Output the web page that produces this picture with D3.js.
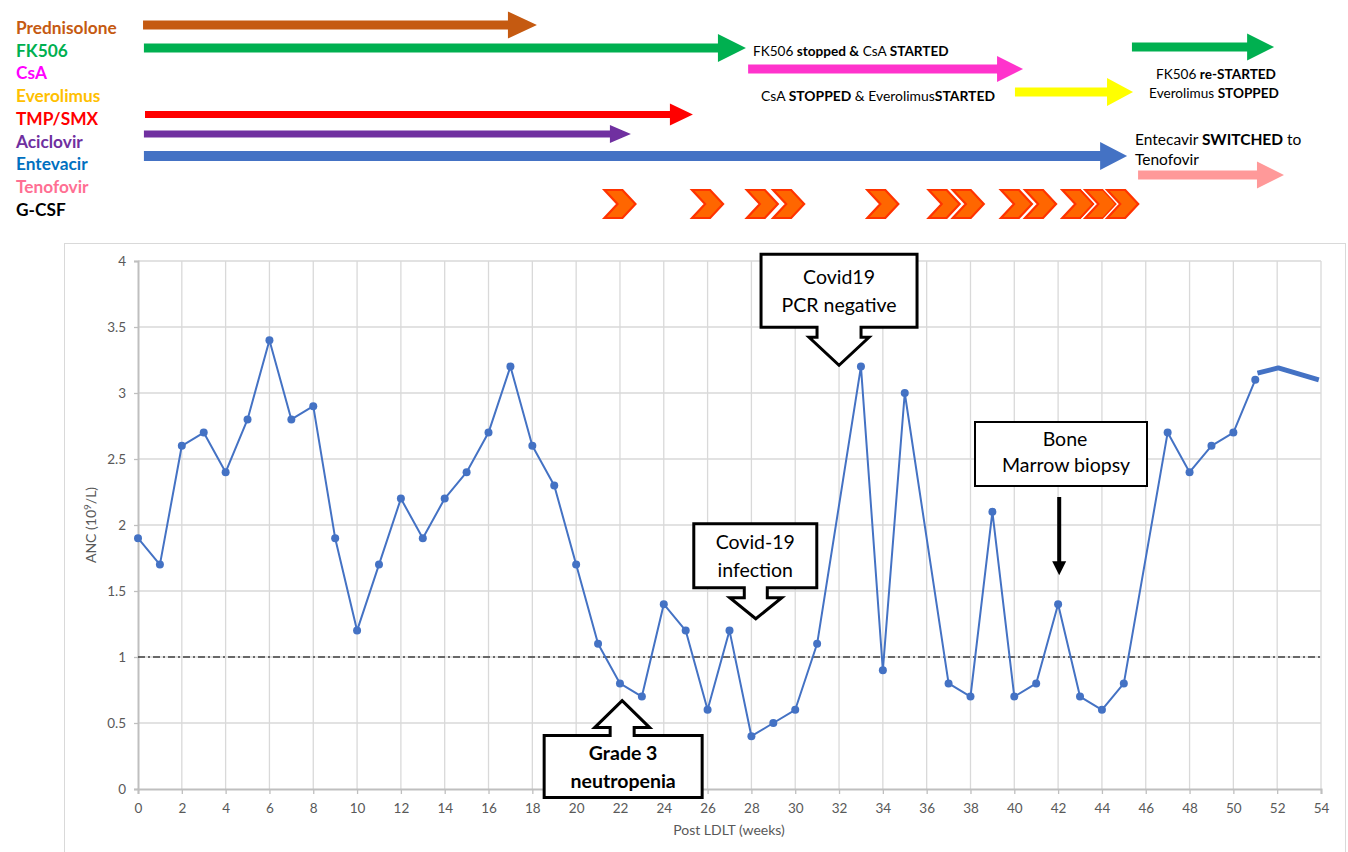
<!DOCTYPE html>
<html>
<head>
<meta charset="utf-8">
<script src="https://cdn.jsdelivr.net/npm/d3@7"></script>
<style>
  html, body { margin: 0; padding: 0; background: #fff; }
  svg { display: block; font-family: Lato, "Open Sans", sans-serif; }
</style>
</head>
<body>
<svg id="chart" width="1348" height="852"></svg>
<script>
// ANC series (10^9/L) by week after LDLT
const weeks = [0,1,2,3,4,5,6,7,8,9,10,11,12,13,14,15,16,17,18,19,20,21,22,23,24,25,26,27,28,29,30,31,33,34,35,37,38,39,40,41,42,43,44,45,47,48,49,50,51];
const anc   = [1.9,1.7,2.6,2.7,2.4,2.8,3.4,2.8,2.9,1.9,1.2,1.7,2.2,1.9,2.2,2.4,2.7,3.2,2.6,2.3,1.7,1.1,0.8,0.7,1.4,1.2,0.6,1.2,0.4,0.5,0.6,1.1,3.2,0.9,3.0,0.8,0.7,2.1,0.7,0.8,1.4,0.7,0.6,0.8,2.7,2.4,2.6,2.7,3.1];
// trailing trend segment (no markers)
const trendWeeks = [51.1, 52.05, 53.9];
const trendAnc   = [3.15, 3.19, 3.10];

const threshold = 1.0;
const xTicks = d3.range(0, 55, 2);
const yTicks = [0, 0.5, 1, 1.5, 2, 2.5, 3, 3.5, 4];

// medications legend
const drugNames  = ["Prednisolone","FK506","CsA","Everolimus","TMP/SMX","Aciclovir","Entevacir","Tenofovir","G-CSF"];
const drugColors = ["#C55A11","#00B050","#FF00FF","#FFC000","#FF0000","#7030A0","#0070C0","#FF6F93","#000000"];

// treatment periods (weeks)
const periodDrug  = ["Prednisolone","FK506","CsA","Everolimus","FK506","TMP/SMX","Aciclovir","Entevacir","Tenofovir"];
const periodStart = [0.23, 0.27, 27.85, 40.03, 45.37, 0.32, 0.27, 0.27, 45.65];
const periodEnd   = [18.21, 27.75, 40.40, 45.42, 51.86, 25.33, 22.50, 45.15, 52.31];

// G-CSF doses (weeks)
const gcsfWeeks = [22.0, 26.0, 28.5, 29.7, 34.0, 36.8, 37.9, 40.1, 41.2, 42.9, 43.95, 44.95];

const svg = d3.select("#chart");
const x = d3.scaleLinear().domain([0, 54]).range([138, 1321]);
const y = d3.scaleLinear().domain([0, 4]).range([789, 261]);

// ---------- chart frame ----------
svg.append("rect").attr("x", 64.5).attr("y", 243.5).attr("width", 1281).attr("height", 640)
  .attr("fill", "none").attr("stroke", "#d9d9d9").attr("stroke-width", 1);

// gridlines
svg.append("g").selectAll("line").data(xTicks.filter(d => d > 0)).join("line")
  .attr("x1", d => x(d)).attr("x2", d => x(d)).attr("y1", y(4)).attr("y2", y(0))
  .attr("stroke", "#d9d9d9").attr("stroke-width", 1.3);
svg.append("g").selectAll("line").data(yTicks.filter(d => d > 0)).join("line")
  .attr("x1", x(0)).attr("x2", x(54)).attr("y1", d => y(d)).attr("y2", d => y(d))
  .attr("stroke", "#d9d9d9").attr("stroke-width", 1.3);

// axes
const xAxis = svg.append("g").attr("transform", `translate(0,${y(0)})`)
  .call(d3.axisBottom(x).tickValues(xTicks).tickSize(5).tickPadding(9).tickFormat(d3.format("d")));
const yAxis = svg.append("g").attr("transform", `translate(${x(0)},0)`)
  .call(d3.axisLeft(y).tickValues(yTicks).tickSize(4).tickPadding(8).tickFormat(d => String(d)));
[xAxis, yAxis].forEach(g => {
  g.select(".domain").attr("stroke", "#bfbfbf").attr("stroke-width", 2);
  g.selectAll(".tick line").attr("stroke", "#bfbfbf").attr("stroke-width", 1.3);
  g.selectAll(".tick text").attr("fill", "#595959").attr("font-size", 13.5)
    .attr("font-family", "Lato, sans-serif");
});

// axis titles
svg.append("text").attr("x", 729).attr("y", 835).attr("text-anchor", "middle")
  .attr("fill", "#595959").attr("font-size", 14).text("Post LDLT (weeks)");
const yt = svg.append("text").attr("transform", `translate(96,${(y(0) + y(4)) / 2}) rotate(-90)`)
  .attr("text-anchor", "middle").attr("fill", "#595959").attr("font-size", 14);
yt.append("tspan").text("ANC (10");
yt.append("tspan").attr("dy", -5).attr("font-size", 10).text("9");
yt.append("tspan").attr("dy", 5).text("/L)");

// threshold line
svg.append("line").attr("x1", x(0)).attr("x2", x(54)).attr("y1", y(threshold)).attr("y2", y(threshold))
  .attr("stroke", "#404040").attr("stroke-width", 1.3).attr("stroke-dasharray", "7,3,2,3");

// ---------- ANC series ----------
const pts = weeks.map((w, i) => [w, anc[i]]);
const line = d3.line().x(d => x(d[0])).y(d => y(d[1]));
svg.append("path").datum(pts).attr("d", line)
  .attr("fill", "none").attr("stroke", "#4472C4").attr("stroke-width", 2).attr("stroke-linejoin", "round");
svg.append("g").selectAll("circle").data(pts).join("circle")
  .attr("cx", d => x(d[0])).attr("cy", d => y(d[1])).attr("r", 4).attr("fill", "#4472C4");
svg.append("path").datum(trendWeeks.map((w, i) => [w, trendAnc[i]])).attr("d", line)
  .attr("fill", "none").attr("stroke", "#4472C4").attr("stroke-width", 5).attr("stroke-linejoin", "round");

// ---------- medication legend ----------
svg.append("g").selectAll("text").data(drugNames).join("text")
  .attr("x", 16).attr("y", (d, i) => 34 + i * 22.7)
  .attr("fill", (d, i) => drugColors[i]).attr("font-weight", "bold").attr("font-size", 17.3)
  .text(d => d);

// ---------- treatment arrows ----------
const arrowColor = { "Prednisolone": "#C55A11", "FK506": "#00B050", "CsA": "#FF33CC", "Everolimus": "#FFFF00",
  "TMP/SMX": "#FF0000", "Aciclovir": "#7030A0", "Entevacir": "#4472C4", "Tenofovir": "#FF9999" };
// row centre, shaft thickness, head length, head height (pixels) for each period
const arrowLayout = [
  [25, 9, 29, 27], [48, 9, 28, 28], [69, 9, 26, 26], [92, 9, 26, 28], [47, 9, 27, 27],
  [114.5, 7, 23, 22], [134, 7, 21, 18], [156, 10, 27, 28], [175, 9, 27, 27]
];
function arrowPath(x0, x1, cy, t, hl, hh) {
  const xb = x1 - hl;
  return `M${x0},${cy - t / 2}L${xb},${cy - t / 2}L${xb},${cy - hh / 2}L${x1},${cy}` +
         `L${xb},${cy + hh / 2}L${xb},${cy + t / 2}L${x0},${cy + t / 2}Z`;
}
svg.append("g").selectAll("path").data(periodDrug).join("path")
  .attr("d", (d, i) => arrowPath(x(periodStart[i]), x(periodEnd[i]), ...arrowLayout[i]))
  .attr("fill", d => arrowColor[d]);

// treatment change notes
function richText(g, xPos, yPos, parts, size, anchor) {
  const t = g.append("text").attr("x", xPos).attr("y", yPos).attr("font-size", size)
    .attr("fill", "#000").attr("text-anchor", anchor || "start");
  parts.forEach(p => t.append("tspan").attr("font-weight", p[1] ? "bold" : "normal").text(p[0]));
  return t;
}
const notes = svg.append("g");
richText(notes, 753, 56, [["FK506 ", 0], ["stopped &", 1], [" CsA ", 0], ["STARTED", 1]], 13.6);
richText(notes, 761, 101, [["CsA ", 0], ["STOPPED", 1], [" & Everolimus", 0], ["STARTED", 1]], 13.9);
richText(notes, 1216, 79, [["FK506 ", 0], ["re-STARTED", 1]], 13.6, "middle");
richText(notes, 1214, 98, [["Everolimus ", 0], ["STOPPED", 1]], 13.6, "middle");
richText(notes, 1135, 145, [["Entecavir ", 0], ["SWITCHED", 1], [" to", 0]], 15.5);
richText(notes, 1135, 165, [["Tenofovir", 0]], 15.5);

// ---------- G-CSF chevrons ----------
const chevW = 31, chevH = 28, chevD = 13;
function chevron(cx, cy) {
  const l = cx - chevW / 2, r = cx + chevW / 2, t = cy - chevH / 2, b = cy + chevH / 2;
  return `M${l},${t}L${r - chevD},${t}L${r},${cy}L${r - chevD},${b}L${l},${b}L${l + chevD},${cy}Z`;
}
const chev = svg.append("g").selectAll("g").data(gcsfWeeks).join("g");
chev.append("path").attr("d", d => chevron(x(d), 204))
  .attr("fill", "none").attr("stroke", "#fff").attr("stroke-width", 5).attr("stroke-linejoin", "miter");
chev.append("path").attr("d", d => chevron(x(d), 204))
  .attr("fill", "#FF6600").attr("stroke", "#FF3300").attr("stroke-width", 2.2).attr("stroke-linejoin", "miter");

// ---------- callouts ----------
// arrow callout outline: box above (dir=1) or below (dir=-1) the tip
function calloutPath(tx, ty, dir, left, right, boxNear, boxFar, shaftEnd, shaftHalf, headHalf) {
  const s = dir;
  const yb = ty - s * boxNear, yf = ty - s * boxFar, ys = ty - s * shaftEnd;
  return [
    [tx - left, yf], [tx + right, yf], [tx + right, yb], [tx + shaftHalf, yb], [tx + shaftHalf, ys],
    [tx + headHalf, ys], [tx, ty], [tx - headHalf, ys], [tx - shaftHalf, ys], [tx - shaftHalf, yb], [tx - left, yb]
  ].map((p, i) => (i ? "L" : "M") + p[0] + "," + p[1]).join("") + "Z";
}
const callouts = svg.append("g");
function addCallout(tipWeek, tipVal, dir, geom, lines, bold) {
  const tx = x(tipWeek), ty = y(tipVal);
  callouts.append("path").attr("d", calloutPath(tx, ty, dir, ...geom))
    .attr("fill", "#fff").attr("stroke", "#000").attr("stroke-width", 3).attr("stroke-linejoin", "miter");
  const cx = tx + (geom[1] - geom[0]) / 2;
  const mid = ty - dir * (geom[2] + geom[3]) / 2;
  lines.forEach((l, i) => {
    callouts.append("text").attr("x", cx).attr("y", mid + (i - (lines.length - 1) / 2) * 28 + 7)
      .attr("text-anchor", "middle").attr("font-size", 19.5).attr("font-weight", bold ? "bold" : "normal")
      .attr("fill", "#000").text(l);
  });
}
addCallout(32, 3.21, 1, [78, 78, 38, 111, 28, 22, 30], ["Covid19", "PCR negative"]);
addCallout(28.2, 1.29, 1, [62, 61, 31, 95, 21, 11.5, 26], ["Covid-19", "infection"]);
addCallout(22.1, 0.67, -1, [78, 80, 35, 97, 27, 12, 27.5], ["Grade 3", "neutropenia"], true);

// bone marrow biopsy box with pointer
const bmX = x(42.05), bmTip = y(1.62);
callouts.append("rect").attr("x", 975).attr("y", 422).attr("width", 172).attr("height", 64)
  .attr("fill", "#fff").attr("stroke", "#000").attr("stroke-width", 2);
callouts.append("text").attr("x", 1065).attr("y", 446).attr("text-anchor", "middle").attr("font-size", 19.5).text("Bone");
callouts.append("text").attr("x", 1066).attr("y", 472).attr("text-anchor", "middle").attr("font-size", 19.5).text("Marrow biopsy");
callouts.append("line").attr("x1", bmX).attr("x2", bmX).attr("y1", 497).attr("y2", bmTip - 12)
  .attr("stroke", "#000").attr("stroke-width", 4);
callouts.append("path").attr("d", `M${bmX - 7},${bmTip - 14}L${bmX + 7},${bmTip - 14}L${bmX},${bmTip}Z`).attr("fill", "#000");
</script>
</body>
</html>
